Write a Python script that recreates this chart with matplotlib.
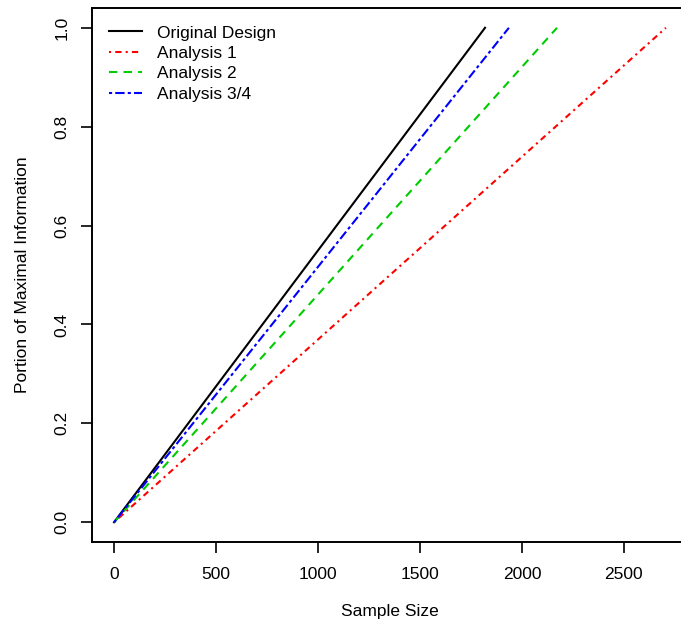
import matplotlib.pyplot as plt
import numpy as np

plt.rcParams["font.family"] = ["Liberation Sans", "DejaVu Sans"]

# each design: sample size at which full information is reached
labels = ["Original Design", "Analysis 1", "Analysis 2", "Analysis 3/4"]
max_n = [1819, 2706, 2172, 1936]
colors = ["black", "#ff0000", "#00cc00", "#0000ff"]
styles = ["-", (0, (1, 2, 3, 2)), (0, (4, 3)), (0, (1.5, 1.5, 4.5, 1.5))]

x_ticks = [0, 500, 1000, 1500, 2000, 2500]
y_ticks = [0.0, 0.2, 0.4, 0.6, 0.8, 1.0]

fig = plt.figure(figsize=(6.81, 6.27), dpi=100)
W, H = 681, 627
ax = fig.add_axes([92 / W, 1 - 542 / H, (688 - 92) / W, (542 - 8) / H])

for n, lab, c, ls in zip(max_n, labels, colors, styles):
    ax.plot([0, n], [0, 1], color=c, linestyle=ls, linewidth=1.5, label=lab)

xmax = max(max_n)
ax.set_xlim(-0.04 * xmax, 1.04 * xmax)
ax.set_ylim(-0.04, 1.04)
ax.set_xticks(x_ticks)
ax.set_yticks(y_ticks)
ax.set_yticklabels([f"{v:.1f}" for v in y_ticks], rotation=90, va="center")

ax.tick_params(direction="out", length=8, width=1.2, labelsize=12.5, pad=10)
ax.tick_params(axis="y", pad=8)
for s in ax.spines.values():
    s.set_linewidth(1.4)

ax.set_xlabel("Sample Size", fontsize=12.5, labelpad=16)
ax.set_ylabel("Portion of Maximal Information", fontsize=12.5, labelpad=18)

ax.legend(loc="upper left", frameon=False, fontsize=12.5, handlelength=1.9,
          handletextpad=0.85, labelspacing=0.3, borderaxespad=0.6)

fig.savefig("out.png", dpi=100)
